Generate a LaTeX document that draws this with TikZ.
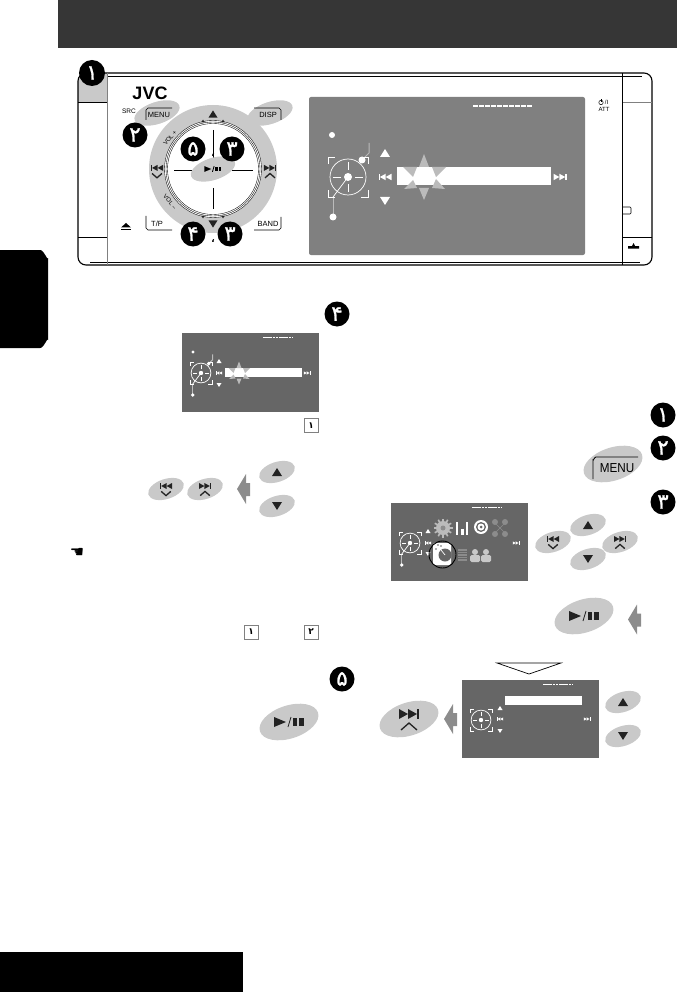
\documentclass[tikz,border=0pt]{standalone}
\usepackage{xcolor}
\usepackage{fontspec}
\setmainfont{Liberation Sans}
\newfontfamily\arabicfont[Script=Arabic]{DejaVu Sans}
\newfontfamily\stepfont[Script=Arabic,FakeBold=1.2]{DejaVu Sans}
\newfontfamily\symbolfont{DejaVu Sans}
\usetikzlibrary{shapes.geometric, positioning}
\definecolor{btngray}{HTML}{C9C9C9}
\definecolor{screengray}{HTML}{808080}
\definecolor{panelgray}{HTML}{666666}
\definecolor{pointergray}{HTML}{8C8C8C}
\definecolor{glowgray}{HTML}{BBBBBB}
\definecolor{headgray}{HTML}{363636}
\definecolor{inkgray}{HTML}{222222}

\tikzset{
  pics/uptri/.style={code={\fill (-5,4) -- (5,4) -- (0,-4) -- cycle;}},
  pics/downtri/.style={code={\fill (-5,-4) -- (5,-4) -- (0,4) -- cycle;}},
  pics/skipfwd/.style={code={
    \fill (-10,-5) -- (-10,5) -- (-1,0) -- cycle;
    \fill (-1,-5) -- (-1,5) -- (8,0) -- cycle;
    \fill (8,-5) rectangle (10,5);}},
  pics/skipback/.style={code={
    \fill (10,-5) -- (10,5) -- (1,0) -- cycle;
    \fill (1,-5) -- (1,5) -- (-8,0) -- cycle;
    \fill (-10,-5) rectangle (-8,5);}},
  pics/prevbtn/.style={code={
    \fill (10,-10) -- (10,0) -- (1,-5) -- cycle;
    \fill (1,-10) -- (1,0) -- (-8,-5) -- cycle;
    \fill (-10,-10) rectangle (-8,0);
    \draw[line width=1.3] (-8,4) -- (0,11) -- (8,4);}},
  pics/nextbtn/.style={code={
    \fill (-10,-10) -- (-10,0) -- (-1,-5) -- cycle;
    \fill (-1,-10) -- (-1,0) -- (8,-5) -- cycle;
    \fill (8,-10) rectangle (10,0);
    \draw[line width=1.3] (-8,11) -- (0,4) -- (8,11);}},
  pics/playpause/.style={code={
    \fill (-15,-5) -- (-15,5) -- (-3,0) -- cycle;
    \draw[line width=.8] (-1,5) -- (2,-5);
    \fill (4,-4) rectangle (8,4);
    \fill (10,-4) rectangle (14.5,4);}},
  pics/discicon/.style={code={
    \draw[white, line width=.7] (0,0) circle (18);
    \fill[white] (0,0) circle (4);
    \foreach \u in {1,-1} {
      \draw[white, line width=.7] (7*\u,0) -- (15*\u,0);
      \draw[white, line width=.7] (0,7*\u) -- (0,15*\u);
      \foreach \v in {1,-1}
        \draw[white, line width=.7, xscale=\u, yscale=\v] (20,13) -- (20,20) -- (13,20);
    }}},
  pics/leadup/.style={code={
    \draw[glowgray, line width=1] (21,-34) -- (21,-24) -- (14,-17);
    \fill[white] (14,-17) circle (3.5);}},
  pics/leaddown/.style={code={
    \draw[white, line width=.7] (0,0) -- (-15,20);
    \draw[glowgray, line width=1] (-15,20) -- (-15,40);
    \fill[white] (-15,40) circle (3.5);}},
  pics/glow/.style={code={
    \fill[glowgray] (0,-23) -- (-5,-10) -- (5,-10) -- cycle;
    \fill[glowgray] (0,23) -- (-5,11) -- (5,11) -- cycle;
    \fill[glowgray] (-21,-10) -- (-7,-10) -- (-11,0) -- cycle;
    \fill[glowgray] (22,-10) -- (8,-10) -- (12,0) -- cycle;
    \fill[glowgray] (-20,12) -- (-11,3) -- (-7,11) -- cycle;
    \fill[glowgray] (21,12) -- (12,2) -- (8,11) -- cycle;}},
  pics/leftpointer/.style={code={
    \fill[pointergray] (-9,0) -- (0,-15) -- (0,-6) -- (4,-6) -- (4,7) -- (0,7) -- (0,15) -- cycle;}}
}

\begin{document}
\begin{tikzpicture}[
  x=1pt, y=-1pt,
  btn/.style={ellipse, fill=btngray, inner sep=0pt, minimum width=37pt, minimum height=20pt, rotate=18},
  bigbtn/.style={btn, minimum width=61pt, minimum height=33pt},
  stepmark/.style={circle, fill=black, text=white, inner sep=0pt, minimum size=25pt, font=\stepfont\fontsize{21}{21}\selectfont},
  numbox/.style={draw=gray, fill=white, inner sep=0pt, minimum size=14pt, font=\arabicfont\bfseries\fontsize{9}{9}\selectfont},
  keylabel/.style={inner sep=0pt, font=\fontsize{7.5}{8}\selectfont},
  tinylabel/.style={inner sep=0pt, font=\fontsize{6}{6}\selectfont},
  dashbar/.style={white, line width=1.6pt, dash pattern=on 5pt off 1pt}
]
\useasboundingbox (0,0) rectangle (677,992);

% Page bands
\fill[headgray] (58,0) rectangle (677,48);
\fill[black] (0,250) -- (40,250) to[out=0,in=-90] (48,258) -- (48,340) to[out=90,in=0] (40,348) -- (0,348) -- cycle;
\fill[black] (0,952) rectangle (243,992);

% Device body
\fill[btngray] (84,73) -- (107,73) -- (107,102) -- (78,102) -- (78,79) -- cycle;
\draw[line width=1.1pt, rounded corners=8pt] (78,73) rectangle (652,265);
\draw[line width=.6pt] (107,76) -- (642,76);
\draw[line width=.6pt] (90,262) -- (640,262);
\draw[gray, line width=.8pt] (107,73) -- (107,265);
\draw[gray, line width=.8pt] (622,102) -- (652,102);
\draw[line width=.6pt] (78,102) -- (107,102);
\draw[line width=.6pt] (622,73) -- (622,265);
\draw[line width=.6pt] (78,237) -- (107,237);
\draw[line width=.6pt] (622,237) -- (652,237);
\draw[line width=.6pt, rounded corners=1pt] (622,207) -- (631,207) -- (631,214) -- (622,214);

% Labels on the body
\node[inner sep=0pt, font=\bfseries\fontsize{18}{18}\selectfont] (logo) at (150,93) {JVC};
\node[keylabel, font=\fontsize{6.5}{7}\selectfont] (srclabel) at (129,111) {SRC};
\draw[line width=.5pt] (601,102.5) circle (2.2);
\draw[line width=.5pt] (601,99.5) -- (601,102.5);
\node[tinylabel] (powerlabel) at (606.5,102.5) {/I};
\node[tinylabel] (attlabel) at (604,109.5) {ATT};
\fill (121,229) rectangle (131,230.5);
\fill (121,227.5) -- (131,227.5) -- (126,223) -- cycle;
\fill (628,246) -- (628,248.5) -- (639,248.5) -- (639,246) -- (635,246) -- (633.5,243) -- (632,246) -- cycle;

% Control ring
\node[btn, minimum width=47pt, minimum height=22pt] (menubtn) at (157,113) {};
\node[btn, minimum width=47pt, minimum height=22pt] (dispbtn) at (270,113) {};
\fill[btngray] (213,169) circle (64);
\fill[white] (213,169) circle (48.5);
\foreach \r in {45.5,47,48.5} \draw[line width=.35pt] (213,169) circle (\r);
\draw[line width=.7pt] (213,130) -- (213,158);
\draw[line width=.7pt] (213,188) -- (213,209);
\draw[line width=.7pt] (174,170) -- (195,170);
\draw[line width=.7pt] (232,170) -- (253,170);
\node[btn, minimum width=46pt, minimum height=22pt] (ringplay) at (213,169) {};
\pic[black, scale=.57] at (213,169) {playpause};
\pic[inkgray, scale=.9] at (213,114) {uptri};
\pic[inkgray, scale=.9] at (213,224) {downtri};
\foreach \x in {203,223} {
  \pic[inkgray, scale=.35] at (\x,121) {uptri};
  \pic[inkgray, scale=.35] at (\x,217) {downtri};
}
\pic[inkgray, scale=.62] at (157,171) {prevbtn};
\pic[inkgray, scale=.62] at (270,171) {nextbtn};
\node[tinylabel, rotate=50] (volup) at (170,138) {VOL +};
\node[tinylabel, rotate=-50] (voldown) at (170,202) {VOL --};

% Keys around the ring
\node[keylabel] (menutext) at (159,115) {MENU};
\draw[line width=.6pt] (146,120) -- (146,110) to[out=-90,in=180] (148,108) -- (172,108);
\node[keylabel] (disptext) at (268,115) {DISP};
\draw[line width=.6pt] (254,108) -- (279,108) to[out=0,in=-90] (281,110) -- (281,120);
\node[keylabel] (tptext) at (157,224) {T/P};
\draw[line width=.6pt] (146,216) -- (146,228) to[out=90,in=180] (148,230) -- (172,230);
\node[keylabel] (bandtext) at (268,224) {BAND};
\draw[line width=.6pt] (254,230) -- (279,230) to[out=0,in=90] (281,228) -- (281,217);

% Large screen
\fill[screengray, rounded corners=2pt] (309,97) rectangle (585,255);
\draw[dashbar] (473,106) -- (532,106);
\fill[white] (332,135) circle (3);
\pic at (348,177) {leadup};
\pic at (348,177) {leaddown};
\pic at (348,177) {discicon};
\pic[white] at (385,153) {uptri};
\pic[white] at (385,201) {downtri};
\pic[white, scale=.65] at (385,177) {skipback};
\fill[white] (397,167) rectangle (551,185);
\pic at (424,177) {glow};
\pic[white, scale=.65] at (560,177) {skipfwd};

% Step markers
\node[stepmark, minimum size=26pt] (stepa) at (92,73) {۱};
\node[stepmark] (stepb) at (135,135) {۲};
\node[stepmark] (stepe) at (193,149) {۵};
\node[stepmark] (stepc) at (232,149) {۳};
\node[stepmark] (stepd) at (193,234) {۴};
\node[stepmark] (stepf) at (230,234) {۳};
\node[inner sep=0pt, font=\arabicfont\bfseries\fontsize{9}{9}\selectfont] (ticka) at (213,155) {،};
\node[inner sep=0pt, font=\arabicfont\bfseries\fontsize{9}{9}\selectfont] (tickb) at (213,241) {،};
\node[stepmark] (stepg) at (337,314) {۴};
\node[stepmark] (steph) at (342,679) {۵};
\node[stepmark] (stepi) at (663,415) {۱};
\node[stepmark] (stepj) at (663,448) {۲};
\node[stepmark] (stepk) at (663,502) {۳};

% Left column screen
\fill[panelgray] (182,333) rectangle (319,412);
\draw[dashbar, line width=1pt, dash pattern=on 2.6pt off .6pt] (263,337) -- (292,337);
\fill[white] (193,352) circle (1.6);
\pic[scale=.55] at (201,373) {leadup};
\pic[scale=.55] at (201,373) {leaddown};
\pic[scale=.55] at (201,373) {discicon};
\pic[white, scale=.5] at (219,361) {uptri};
\pic[white, scale=.5] at (219,385) {downtri};
\pic[white, scale=.32] at (219,373) {skipback};
\fill[white] (225,368) rectangle (302,377);
\pic[scale=.5] at (239,373) {glow};
\pic[white, scale=.32] at (307,373) {skipfwd};
\node[numbox] (boxa) at (311,425.5) {۱};

% Left column keys
\node[btn] (prevkey) at (166,489) {};
\node[btn] (nextkey) at (205,489) {};
\pic[inkgray, scale=.6] at (166,489) {prevbtn};
\pic[inkgray, scale=.6] at (205,489) {nextbtn};
\pic at (246,489) {leftpointer};
\node[btn] (upkey) at (277,472) {};
\node[btn] (downkey) at (277,506) {};
\pic[inkgray] at (277,472) {uptri};
\pic[inkgray] at (277,506) {downtri};
\node[inner sep=0pt, font=\symbolfont\fontsize{16}{16}\selectfont] (handicon) at (77,553) {☚};
\node[numbox] (boxb) at (251,632) {۱};
\node[numbox] (boxc) at (311,632) {۲};
\node[bigbtn] (playkey) at (289,722) {};
\pic[inkgray] at (289,722) {playpause};

% Right column, menu screen
\node[bigbtn] (menukey) at (613,464) {};
\node[inner sep=0pt, font=\fontsize{13}{13}\selectfont] (menukeytext) at (617,468) {\scalebox{.9}[1]{MENU}};
\draw[line width=.8pt] (593,479) -- (593,460) to[out=-90,in=180] (596,457) -- (638,457);
\fill[panelgray] (391,503) rectangle (528,581);
\draw[dashbar, line width=1pt, dash pattern=on 2.6pt off .6pt] (472,507) -- (501,507);
\pic[scale=.55] at (410,543) {leaddown};
\pic[scale=.55] at (410,543) {discicon};
\pic[white, scale=.5] at (428,531) {uptri};
\pic[white, scale=.5] at (428,554) {downtri};
\pic[white, scale=.32] at (428,543) {skipback};
\pic[white, scale=.32] at (516,543) {skipfwd};
% Menu icons
\foreach \a in {0,30,...,330} \draw[glowgray, line width=1.6pt] (443,528) -- ++(\a:9.5);
\fill[glowgray] (443,528) circle (7);
\fill[pointergray] (443,528) circle (2.5);
\fill[white] (456,522) rectangle (458,535);
\fill[white] (461,529) rectangle (464,535);
\fill[white] (466,522) rectangle (468,535);
\fill[white] (481,527) circle (7);
\fill[panelgray] (481,527) circle (5);
\fill[white] (481,527) circle (3.5);
\fill[panelgray] (481,527) circle (1.5);
\draw[pointergray, line width=.6pt] (494,522) -- (506,534) (506,522) -- (494,534);
\foreach \x in {495,505} \foreach \y in {522,534} \fill[pointergray] (\x,\y) circle (3);
\fill[white, rounded corners=2pt] (433,543) rectangle (451,565);
\fill[panelgray] (445,555) circle (6.5);
\draw[white, line width=.7pt] (445,555) -- (441,550);
\fill[panelgray] (436,549) circle (.8) (438,545) circle (.8) (441,546) circle (.8);
\draw[line width=.9pt] (442.5,554.5) circle (13.5);
\fill[pointergray] (458,549) rectangle (467,562);
\foreach \y in {551,553.5,...,561} \draw[panelgray, line width=.5pt] (458,\y) -- (467,\y);
\foreach \x in {475,486} {
  \fill[btngray] (\x,552) circle (3);
  \fill[btngray, rounded corners=1.5pt] (\x-5,555) rectangle (\x+5,562);
}
\node[btn] (upmenu) at (588,525) {};
\node[btn] (prevmenu) at (553,542) {};
\node[btn] (nextmenu) at (620,542) {};
\node[btn] (downmenu) at (588,559) {};
\pic[inkgray] at (588,525) {uptri};
\pic[inkgray] at (588,559) {downtri};
\pic[inkgray, scale=.6] at (553,542) {prevbtn};
\pic[inkgray, scale=.6] at (620,542) {nextbtn};
\node[bigbtn] (playmenu) at (584,616) {};
\pic[inkgray] at (584,616) {playpause};
\pic at (637,619.5) {leftpointer};

% Right column, last screen
\draw[line width=.7pt, fill=white] (497,663) -- (561,663) -- (529,674) -- cycle;
\fill[panelgray] (462,680) rectangle (599,758);
\draw[dashbar, line width=1pt, dash pattern=on 2.6pt off .6pt] (543,684) -- (572,684);
\fill[white] (505,696) rectangle (582,705);
\pic[scale=.55] at (481,720) {discicon};
\pic[white, scale=.5] at (500,708) {uptri};
\pic[white, scale=.5] at (500,731) {downtri};
\pic[white, scale=.32] at (500,719) {skipback};
\pic[white, scale=.32] at (587,719) {skipfwd};
\node[bigbtn] (nextfinal) at (409,719) {};
\pic[inkgray] at (409,719) {nextbtn};
\pic at (453,719) {leftpointer};
\node[btn] (upfinal) at (623,702) {};
\node[btn] (downfinal) at (623,736) {};
\pic[inkgray] at (623,702) {uptri};
\pic[inkgray] at (623,736) {downtri};
\end{tikzpicture}
\end{document}
